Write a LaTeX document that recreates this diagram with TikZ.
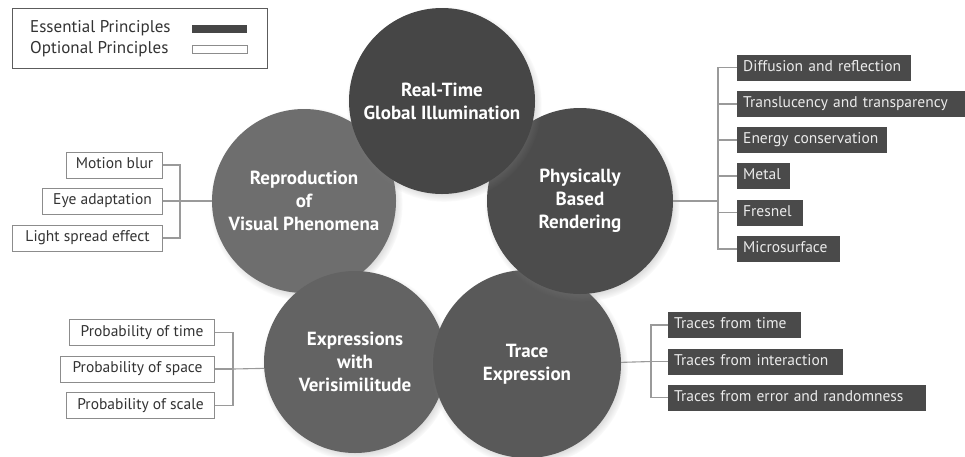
\documentclass[tikz,border=0pt]{standalone}
\usepackage{fontspec}
\setmainfont{PT Sans}
\usetikzlibrary{shadows}
\definecolor{ctop}{HTML}{464646}
\definecolor{cpbr}{HTML}{4C4C4C}
\definecolor{ctrace}{HTML}{595959}
\definecolor{cexp}{HTML}{636363}
\definecolor{crepro}{HTML}{6E6E6E}
\definecolor{boxdark}{HTML}{4A4A4A}
\definecolor{linegray}{HTML}{9A9A9A}
\definecolor{txtdark}{HTML}{333333}
\definecolor{boxedge}{HTML}{8C8C8C}
\tikzset{
  bigcirc/.style={circle, inner sep=0pt, text=white, align=center,
    font=\fontsize{19}{23}\selectfont\bfseries,
    circular drop shadow={shadow xshift=2pt, shadow yshift=-3pt, shadow scale=1.05, opacity=0.45}},
  darkbox/.style={fill=boxdark, text=white!92!black, anchor=west,
    font=\fontsize{15.5}{17}\selectfont, text height=11pt, text depth=3.5pt,
    minimum height=26pt, inner xsep=6pt, inner ysep=0pt, text width=#1, align=left},
  litebox/.style={draw=boxedge, line width=0.9pt, fill=white, text=txtdark, anchor=east,
    font=\fontsize{15.5}{17}\selectfont, text height=11pt, text depth=3.5pt,
    minimum height=26pt, minimum width=#1, inner ysep=0pt},
  legtext/.style={anchor=west, text=txtdark, font=\fontsize{17}{19}\selectfont, inner sep=0pt},
  conn/.style={draw=linegray, line width=1.1pt}
}
\begin{document}
\begin{tikzpicture}[x=1pt,y=-1pt]
\path[use as bounding box, fill=white] (0,0) rectangle (965,456);

% legend
\node[draw=txtdark!80, line width=0.9pt, minimum width=255pt, minimum height=60pt, anchor=north west, inner sep=0pt] (legend) at (12,8) {};
\node[legtext] (ess) at (30,28.5) {Essential Principles};
\node[legtext] (opt) at (30,49) {Optional Principles};
\node[fill=ctop, minimum width=55pt, minimum height=8pt, inner sep=0pt, anchor=west] (essbar) at (192,29) {};
\node[draw=boxedge, line width=0.8pt, fill=white, minimum width=55pt, minimum height=8pt, inner sep=0pt, anchor=west] (optbar) at (192,49) {};

% circles (back to front)
\node[bigcirc, fill=crepro, minimum size=184pt] (repro) at (304,201) {Reproduction\\of\\Visual Phenomena};
\node[bigcirc, fill=cexp, minimum size=182pt] (exp) at (355,362) {Expressions\\with\\Verisimilitude};
\node[bigcirc, fill=ctrace, minimum size=188pt] (trace) at (527,364) {Trace\\Expression};
\node[bigcirc, fill=cpbr, minimum size=186pt] (pbr) at (580,201) {Physically\\Based\\Rendering};
\node[bigcirc, fill=ctop, minimum size=186pt] (top) at (442,101) {Real-Time\\Global Illumination};

% PBR boxes
\node[darkbox=162pt] (d1) at (737,67.5) {Diffusion and reflection};
\node[darkbox=216pt] (d2) at (737,104) {Translucency and transparency};
\node[darkbox=138pt] (d3) at (737,140) {Energy conservation};
\node[darkbox=41pt] (d4) at (737,176) {Metal};
\node[darkbox=54pt] (d5) at (737,212.5) {Fresnel};
\node[darkbox=91pt] (d6) at (737,249) {Microsurface};
\coordinate (pbrj) at (718,201);
\draw[conn] (pbr.east) -- (pbrj);
\draw[conn] (d1.west) -| (pbrj) |- (d6.west);
\foreach \n in {d2,d3,d4,d5} \draw[conn] (\n.west) -- (\n.west -| pbrj);

% Trace boxes
\node[darkbox=121pt] (t1) at (668,325) {Traces from time};
\node[darkbox=163pt] (t2) at (668,361.5) {Traces from interaction};
\node[darkbox=246pt] (t3) at (668,397.5) {Traces from error and randomness};
\coordinate (trj) at (651,361.5);
\draw[conn] (trace.1.8) -- (trj);
\draw[conn] (t1.west) -| (trj) |- (t3.west);
\draw[conn] (t2.west) -- (trj);

% Reproduction boxes
\node[litebox=96pt] (m1) at (163,165) {Motion blur};
\node[litebox=120pt] (m2) at (163,201) {Eye adaptation};
\node[litebox=150pt] (m3) at (163,238) {Light spread effect};
\coordinate (rpj) at (180,201);
\draw[conn] (repro.west) -- (rpj);
\draw[conn] (m1.east) -| (rpj) |- (m3.east);
\draw[conn] (m2.east) -- (rpj);

% Expression boxes
\node[litebox=145pt] (p1) at (215,332.5) {Probability of time};
\node[litebox=154pt] (p2) at (215,369) {Probability of space};
\node[litebox=148pt] (p3) at (215,405.5) {Probability of scale};
\coordinate (exj) at (233,369);
\draw[conn] (exp.184.4) -- (exj);
\draw[conn] (p1.east) -| (exj) |- (p3.east);
\draw[conn] (p2.east) -- (exj);
\end{tikzpicture}
\end{document}
